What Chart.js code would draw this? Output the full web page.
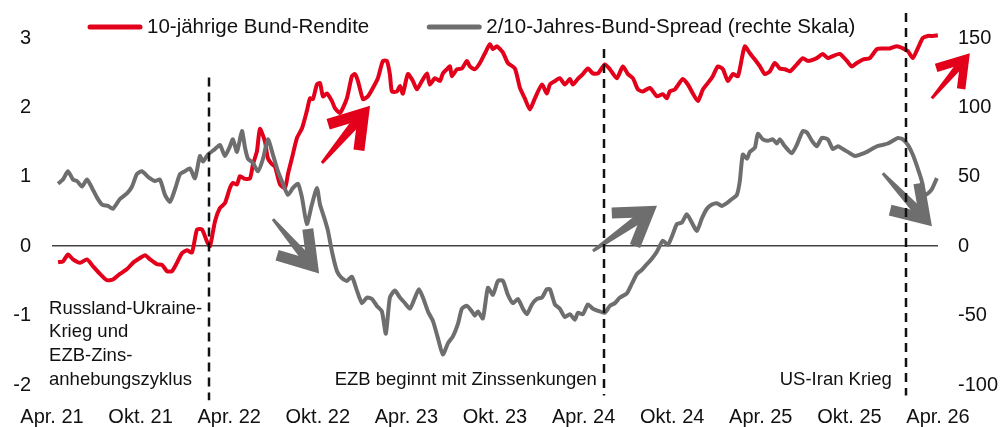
<!DOCTYPE html>
<html>
<head>
<meta charset="utf-8">
<script src="https://cdn.jsdelivr.net/npm/chart.js@4.4.1/dist/chart.umd.min.js"></script>
<style>
  html, body { margin: 0; padding: 0; background: #fff; }
  #wrap { width: 1005px; height: 427px; }
</style>
</head>
<body>
<div id="wrap"><canvas id="chart"></canvas></div>
<script>
// Zeitachse: Monate seit April 2021
const xTickLabels = ['Apr. 21', 'Okt. 21', 'Apr. 22', 'Okt. 22', 'Apr. 23', 'Okt. 23',
                     'Apr. 24', 'Okt. 24', 'Apr. 25', 'Okt. 25', 'Apr. 26'];

// 10-jaehrige Bund-Rendite (%), linke Skala
const yieldMonths = [0.41, 0.74, 1.08, 1.42, 1.90, 2.37, 2.78, 3.25, 3.72, 4.13, 4.60, 5.08, 5.48, 5.96, 6.30, 6.64,
  7.11, 7.45, 7.79, 8.12, 8.46, 8.80, 9.14, 9.48, 9.82, 10.16, 10.49, 10.70, 11.04, 11.37, 11.71, 12.05, 12.25, 12.53,
  12.73, 13.07, 13.41, 13.61, 13.88, 14.08, 14.42, 14.62, 14.90, 15.10, 15.44, 15.78, 15.98, 16.25, 16.59, 16.93,
  17.26, 17.47, 17.67, 17.94, 18.15, 18.35, 18.62, 18.96, 19.16, 19.50, 19.97, 20.31, 20.51, 20.72, 21.06, 21.39,
  21.73, 22.07, 22.41, 22.68, 22.88, 23.02, 23.36, 23.56, 23.76, 24.10, 24.44, 24.71, 25.05, 25.39, 25.59, 25.93,
  26.27, 26.47, 26.74, 26.95, 27.08, 27.42, 27.76, 28.10, 28.30, 28.64, 28.98, 29.32, 29.65, 29.86, 30.13, 30.54,
  30.87, 31.35, 31.69, 32.02, 32.36, 32.70, 33.18, 33.51, 33.72, 34.06, 34.39, 34.73, 35.07, 35.27, 35.61, 35.95,
  36.29, 36.63, 36.97, 37.44, 37.78, 38.25, 38.66, 39.00, 39.34, 39.68, 40.01, 40.49, 40.96, 41.37, 41.64, 41.84,
  42.18, 42.72, 43.06, 43.40, 43.74, 44.08, 44.41, 44.75, 45.09, 45.43, 45.77, 46.11, 46.45, 46.72, 46.92, 47.26,
  47.60, 47.94, 48.27, 48.61, 48.95, 49.29, 49.63, 49.97, 50.44, 50.85, 51.19, 51.79, 52.20, 52.54, 52.88, 53.35,
  53.83, 54.16, 54.50, 54.91, 55.38, 55.86, 56.26, 56.74, 57.21, 57.62, 57.96, 58.29, 58.63, 58.97, 59.31, 59.65, 59.99];
const yieldValues = [-0.23, -0.22, -0.12, -0.19, -0.24, -0.19, -0.29, -0.40, -0.49, -0.48, -0.40, -0.33, -0.24, -0.17,
  -0.13, -0.19, -0.26, -0.27, -0.36, -0.36, -0.24, -0.10, -0.06, -0.09, 0.24, 0.24, 0.07, 0.00, 0.36, 0.55, 0.62, 0.84,
  0.91, 0.89, 1.01, 0.97, 0.98, 1.18, 1.37, 1.69, 1.51, 1.27, 1.18, 1.15, 0.89, 0.84, 1.04, 1.27, 1.56, 1.70, 1.95,
  2.13, 2.12, 2.33, 2.35, 2.16, 2.20, 2.09, 1.99, 1.92, 2.13, 2.45, 2.48, 2.38, 2.12, 2.16, 2.28, 2.42, 2.67, 2.67,
  2.48, 2.23, 2.23, 2.31, 2.20, 2.48, 2.38, 2.26, 2.38, 2.49, 2.33, 2.42, 2.38, 2.49, 2.55, 2.59, 2.45, 2.55, 2.56,
  2.67, 2.59, 2.55, 2.64, 2.78, 2.91, 2.84, 2.88, 2.79, 2.64, 2.56, 2.28, 2.13, 1.97, 2.13, 2.33, 2.20, 2.33, 2.38,
  2.42, 2.33, 2.41, 2.33, 2.41, 2.48, 2.56, 2.49, 2.49, 2.62, 2.55, 2.42, 2.59, 2.48, 2.42, 2.26, 2.23, 2.28, 2.16,
  2.19, 2.13, 2.23, 2.26, 2.41, 2.33, 2.20, 2.09, 2.26, 2.35, 2.45, 2.59, 2.55, 2.38, 2.48, 2.45, 2.71, 2.88, 2.78,
  2.69, 2.59, 2.48, 2.52, 2.64, 2.56, 2.55, 2.52, 2.62, 2.71, 2.67, 2.71, 2.77, 2.71, 2.74, 2.77, 2.67, 2.59, 2.64,
  2.69, 2.71, 2.84, 2.85, 2.85, 2.88, 2.85, 2.81, 2.71, 2.85, 3.00, 3.03, 3.03, 3.04];

// 2/10-Jahres-Bund-Spread (Bp), rechte Skala
const spreadMonths = [0.41, 0.74, 1.08, 1.42, 1.69, 2.03, 2.37, 2.71, 3.05, 3.39, 3.79, 4.13, 4.60, 5.08, 5.42, 5.75,
  6.09, 6.50, 6.97, 7.31, 7.65, 7.99, 8.33, 8.67, 9.00, 9.34, 9.68, 10.02, 10.22, 10.56, 11.04, 11.37, 11.71, 12.05,
  12.25, 12.53, 12.86, 13.07, 13.27, 13.61, 13.95, 14.29, 14.62, 14.96, 15.30, 15.64, 15.98, 16.32, 16.66, 16.93,
  17.26, 17.60, 17.94, 18.15, 18.48, 18.69, 18.96, 19.30, 19.63, 19.97, 20.31, 20.65, 20.99, 21.33, 21.67, 22.00,
  22.34, 22.61, 22.88, 23.22, 23.56, 23.90, 24.24, 24.58, 24.85, 25.12, 25.46, 25.80, 26.13, 26.47, 26.81, 27.15,
  27.49, 27.76, 28.10, 28.44, 28.64, 28.84, 29.18, 29.52, 29.86, 30.20, 30.54, 30.87, 31.21, 31.55, 31.89, 32.16,
  32.50, 32.84, 33.18, 33.51, 33.72, 34.06, 34.39, 34.73, 35.07, 35.41, 35.61, 35.95, 36.29, 36.63, 37.10, 37.44,
  37.78, 38.12, 38.46, 38.93, 39.27, 39.61, 39.95, 40.28, 40.62, 40.96, 41.37, 41.71, 41.98, 42.32, 42.65, 42.99,
  43.33, 43.67, 44.01, 44.35, 44.69, 45.02, 45.36, 45.70, 46.04, 46.38, 46.58, 46.78, 47.06, 47.26, 47.60, 47.80,
  48.14, 48.48, 48.82, 49.09, 49.29, 49.63, 50.10, 50.44, 50.85, 51.12, 51.46, 51.79, 52.13, 52.54, 52.88, 53.22,
  53.56, 54.03, 54.37, 54.71, 55.18, 55.52, 55.86, 56.26, 56.60, 56.94, 57.28, 57.62, 57.96, 58.29, 58.63, 58.90,
  58.97, 59.11, 59.31, 59.58, 59.92];
const spreadValues = [45, 48, 54, 48, 47, 43, 48, 42, 35, 30, 29, 27, 34, 38, 43, 52, 54, 50, 47, 48, 37, 32, 41, 52,
  54, 56, 49, 65, 61, 66, 70, 73, 65, 72, 77, 68, 83, 71, 63, 60, 54, 63, 77, 66, 54, 45, 37, 42, 45, 35, 16, 30, 42,
  30, 19, 11, -4, -18, -23, -25, -22, -32, -41, -37, -38, -43, -47, -63, -37, -32, -37, -41, -45, -37, -31, -37, -47,
  -54, -66, -78, -70, -65, -56, -45, -43, -47, -50, -47, -52, -30, -35, -25, -25, -35, -41, -38, -45, -49, -42, -38,
  -37, -31, -31, -42, -45, -51, -49, -53, -48, -49, -42, -45, -47, -48, -43, -41, -37, -34, -27, -20, -17, -13, -9,
  -4, 4, 1, 7, 16, 17, 23, 17, 11, 20, 27, 30, 31, 29, 31, 34, 37, 47, 66, 63, 68, 71, 81, 77, 76, 77, 74, 77, 72,
  67, 73, 83, 82, 76, 72, 78, 77, 70, 72, 70, 67, 65, 66, 68, 70, 72, 73, 74, 76, 78, 77, 73, 66, 56, 47, 40, 37, 38,
  41, 49];

// Ereignisse (senkrechte Linien)
const eventMonths = [10.6, 37.4, 57.8];
const eventLabels = [
  ['Russland-Ukraine-', 'Krieg und', 'EZB-Zins-', 'anhebungszyklus'],
  ['EZB beginnt mit Zinssenkungen'],
  ['US-Iran Krieg']
];

const RED = '#e3001b';
const GREY = '#6e6e6e';
const FONT = "'Liberation Sans', Arial, sans-serif";

// Hilfslinien, Texte, Pfeile und Legende
const annotationPlugin = {
  id: 'annotations',
  afterDatasetsDraw(chart) {
    const ctx = chart.ctx;
    const x = chart.scales.x, y = chart.scales.y;

    // Pfeile (Position in Daten-Einheiten, linke Skala)
    const arrows = [
      { from: [18.28, 1.20], to: [21.53, 2.02], color: RED, arm: 37 },
      { from: [59.58, 2.13], to: [62.15, 2.78], color: RED, arm: 30 },
      { from: [14.96, 0.39], to: [18.08, -0.39], color: GREY, arm: 37 },
      { from: [36.63, -0.07], to: [40.96, 0.58], color: GREY, arm: 37 },
      { from: [56.26, 1.05], to: [59.58, 0.29], color: GREY, arm: 36 },
    ];
    arrows.forEach(a => {
      const x0 = x.getPixelForValue(a.from[0]), y0 = y.getPixelForValue(a.from[1]);
      const x1 = x.getPixelForValue(a.to[0]), y1 = y.getPixelForValue(a.to[1]);
      const len = Math.hypot(x1 - x0, y1 - y0);
      const ux = (x1 - x0) / len, uy = (y1 - y0) / len;
      const nx = -uy, ny = ux;
      const w = a.arm > 32 ? 11 : 8.5;
      // Spitze etwas zurueck, damit die Gehrung am Punkt endet
      const tx = x1 - ux * w * 0.9, ty = y1 - uy * w * 0.9;
      ctx.save();
      ctx.fillStyle = a.color;
      ctx.strokeStyle = a.color;
      // Schaft, verjuengt
      ctx.beginPath();
      ctx.moveTo(x0 + nx * 1.5, y0 + ny * 1.5);
      ctx.lineTo(tx + nx * w / 2, ty + ny * w / 2);
      ctx.lineTo(tx - nx * w / 2, ty - ny * w / 2);
      ctx.lineTo(x0 - nx * 1.5, y0 - ny * 1.5);
      ctx.closePath();
      ctx.fill();
      // Kopf
      const ang = Math.atan2(-uy, -ux);
      const spread = 33 * Math.PI / 180;
      ctx.lineWidth = w;
      ctx.lineJoin = 'miter';
      ctx.lineCap = 'butt';
      ctx.beginPath();
      ctx.moveTo(tx + Math.cos(ang + spread) * a.arm, ty + Math.sin(ang + spread) * a.arm);
      ctx.lineTo(tx, ty);
      ctx.lineTo(tx + Math.cos(ang - spread) * a.arm, ty + Math.sin(ang - spread) * a.arm);
      ctx.stroke();
      ctx.restore();
    });

    // gestrichelte Ereignis-Linien
    const lineSpans = [[2.43, -2.22], [2.84, -2.15], [3.36, -2.15]];
    ctx.save();
    ctx.strokeStyle = '#111';
    ctx.lineWidth = 2.5;
    ctx.setLineDash([9, 6]);
    eventMonths.forEach((m, i) => {
      const px = Math.round(x.getPixelForValue(m));
      ctx.beginPath();
      ctx.moveTo(px, y.getPixelForValue(lineSpans[i][0]));
      ctx.lineTo(px, y.getPixelForValue(lineSpans[i][1]));
      ctx.stroke();
    });
    ctx.restore();

    // Ereignis-Texte (letzte Zeile auf gleicher Hoehe)
    const labelPos = [
      { m: -0.2, align: 'left' },
      { m: 36.9, align: 'right' },
      { m: 56.87, align: 'right' },
    ];
    ctx.save();
    ctx.fillStyle = '#111';
    ctx.font = '18.5px ' + FONT;
    ctx.textBaseline = 'middle';
    const lastLineY = y.getPixelForValue(-1.92);
    eventLabels.forEach((lines, i) => {
      ctx.textAlign = labelPos[i].align;
      const px = x.getPixelForValue(labelPos[i].m);
      lines.forEach((t, j) => {
        ctx.fillText(t, px, lastLineY - (lines.length - 1 - j) * 23.6);
      });
    });
    ctx.restore();

    // Legende
    ctx.save();
    ctx.font = '20.5px ' + FONT;
    ctx.textBaseline = 'middle';
    ctx.textAlign = 'left';
    let lx = 88;
    const ly = 27;
    chart.data.datasets.forEach(ds => {
      ctx.strokeStyle = ds.borderColor;
      ctx.lineWidth = 5;
      ctx.lineCap = 'round';
      ctx.beginPath();
      ctx.moveTo(lx + 2, ly);
      ctx.lineTo(lx + 52, ly);
      ctx.stroke();
      ctx.fillStyle = '#111';
      ctx.fillText(ds.label, lx + 59, ly);
      lx += 59 + ctx.measureText(ds.label).width + 58;
    });
    ctx.restore();
  }
};

new Chart(document.getElementById('chart'), {
  type: 'line',
  data: {
    datasets: [
      {
        label: '10-jährige Bund-Rendite',
        data: yieldMonths.map((m, i) => ({ x: m, y: yieldValues[i] })),
        borderColor: RED,
        backgroundColor: RED,
        borderWidth: 4,
        pointRadius: 0,
        tension: 0.2,
        clip: 12,
        yAxisID: 'y',
        order: 1,
      },
      {
        label: '2/10-Jahres-Bund-Spread (rechte Skala)',
        data: spreadMonths.map((m, i) => ({ x: m, y: spreadValues[i] })),
        borderColor: GREY,
        backgroundColor: GREY,
        borderWidth: 4,
        pointRadius: 0,
        tension: 0.2,
        clip: 12,
        yAxisID: 'y2',
        order: 0,
      }
    ]
  },
  options: {
    responsive: true,
    maintainAspectRatio: false,
    animation: false,
    layout: { padding: { top: 38, left: 0, right: 0, bottom: 0 } },
    plugins: {
      legend: { display: false },
      tooltip: { enabled: false },
    },
    scales: {
      x: {
        type: 'linear',
        min: 0,
        max: 60,
        grid: { display: false },
        border: { display: false },
        afterFit: s => { s.height = 42; },
        ticks: {
          stepSize: 6,
          autoSkip: false,
          maxRotation: 0,
          padding: 12,
          color: '#111',
          font: { family: FONT, size: 20 },
          callback: v => xTickLabels[Math.round(v / 6)],
        }
      },
      y: {
        position: 'left',
        min: -2,
        max: 3,
        afterFit: s => { s.width = 52; },
        grid: {
          drawTicks: false,
          lineWidth: 1.5,
          color: c => c.tick.value === 0 ? '#444' : 'transparent',
        },
        border: { display: false },
        ticks: {
          stepSize: 1,
          padding: 21,
          color: '#111',
          font: { family: FONT, size: 20 },
        }
      },
      y2: {
        position: 'right',
        min: -100,
        max: 150,
        afterFit: s => { s.width = 67; },
        grid: { display: false, drawTicks: false },
        border: { display: false },
        ticks: {
          stepSize: 50,
          padding: 20,
          color: '#111',
          font: { family: FONT, size: 20 },
        }
      }
    }
  },
  plugins: [annotationPlugin]
});
</script>
</body>
</html>
